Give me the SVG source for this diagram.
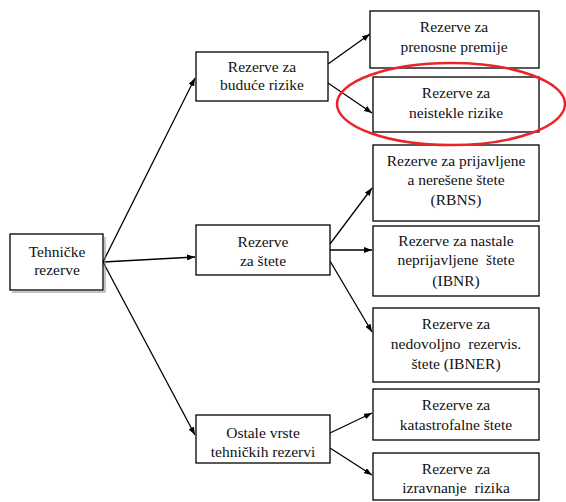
<svg xmlns="http://www.w3.org/2000/svg" width="566" height="502" viewBox="0 0 566 502">
<defs>
<marker id="ah" markerWidth="8" markerHeight="6" refX="8" refY="3" orient="auto" markerUnits="userSpaceOnUse">
<path d="M0,0 L8,3 L0,6 Z" fill="#000"/>
</marker>
<style>
.box{fill:#fff;stroke:#000;stroke-width:1.3}
.sh{fill:none;stroke:#888;stroke-width:1}
.c{stroke:#000;stroke-width:1.3;fill:none;marker-end:url(#ah)}
</style>
</defs>
<rect width="566" height="502" fill="#fff"/>
<g id="connectors">
<path class="c" d="M103,262 L195,78"/>
<path class="c" d="M103,262 L195,257"/>
<path class="c" d="M103,262 L195,435"/>
<path class="c" d="M328,64 L370,34"/>
<path class="c" d="M328,83 L372,113"/>
<path class="c" d="M330,244 L372,188"/>
<path class="c" d="M330,250 L372,250"/>
<path class="c" d="M330,261 L372,332"/>
<path class="c" d="M330,433 L372,413"/>
<path class="c" d="M330,448 L372,475"/>
</g>
<g id="n-tehnicke">
<path class="sh" d="M105,237 V292 H12"/>
<rect class="box" x="10" y="234" width="93" height="56"/>
<text x="57" y="257" font-family="Liberation Serif" font-size="15.5" text-anchor="middle" fill="#111">Tehničke</text>
<text x="57" y="275" font-family="Liberation Serif" font-size="15.5" text-anchor="middle" fill="#111">rezerve</text>
</g>
<g id="n-buduce">
<rect class="box" x="196" y="52" width="132" height="49"/>
<text x="262" y="72" font-family="Liberation Serif" font-size="15.5" text-anchor="middle" fill="#111">Rezerve za</text>
<text x="262" y="90" font-family="Liberation Serif" font-size="15.5" text-anchor="middle" fill="#111">buduće rizike</text>
</g>
<g id="n-stete">
<rect class="box" x="196" y="225" width="134" height="50"/>
<text x="263" y="247" font-family="Liberation Serif" font-size="15.5" text-anchor="middle" fill="#111">Rezerve</text>
<text x="263" y="266" font-family="Liberation Serif" font-size="15.5" text-anchor="middle" fill="#111">za štete</text>
</g>
<g id="n-ostale">
<rect class="box" x="196" y="415" width="134" height="48"/>
<text x="263" y="438" font-family="Liberation Serif" font-size="15.5" text-anchor="middle" fill="#111">Ostale vrste</text>
<text x="263" y="457" font-family="Liberation Serif" font-size="15.5" text-anchor="middle" fill="#111">tehničkih rezervi</text>
</g>
<g id="n-prenosne">
<rect class="box" x="370" y="11" width="169" height="57"/>
<text x="454" y="32" font-family="Liberation Serif" font-size="15.5" text-anchor="middle" fill="#111">Rezerve za</text>
<text x="454" y="52" font-family="Liberation Serif" font-size="15.5" text-anchor="middle" fill="#111">prenosne premije</text>
</g>
<g id="n-neistekle">
<rect class="box" x="373" y="77" width="166" height="55"/>
<text x="456" y="98" font-family="Liberation Serif" font-size="15.5" text-anchor="middle" fill="#111">Rezerve za</text>
<text x="456" y="118" font-family="Liberation Serif" font-size="15.5" text-anchor="middle" fill="#111">neistekle rizike</text>
</g>
<g id="n-rbns">
<rect class="box" x="373" y="145" width="166" height="76"/>
<text x="456" y="166" font-family="Liberation Serif" font-size="15.5" text-anchor="middle" fill="#111">Rezerve za prijavljene</text>
<text x="456" y="185" font-family="Liberation Serif" font-size="15.5" text-anchor="middle" fill="#111">a nerešene štete</text>
<text x="456" y="205" font-family="Liberation Serif" font-size="15.5" text-anchor="middle" fill="#111">(RBNS)</text>
</g>
<g id="n-ibnr">
<rect class="box" x="373" y="226" width="166" height="70"/>
<text x="456" y="246" font-family="Liberation Serif" font-size="15.5" text-anchor="middle" fill="#111">Rezerve za nastale</text>
<text x="456" y="265" font-family="Liberation Serif" font-size="15.5" text-anchor="middle" fill="#111" xml:space="preserve">neprijavljene  štete</text>
<text x="456" y="286" font-family="Liberation Serif" font-size="15.5" text-anchor="middle" fill="#111">(IBNR)</text>
</g>
<g id="n-ibner">
<rect class="box" x="373" y="308" width="166" height="74"/>
<text x="456" y="329" font-family="Liberation Serif" font-size="15.5" text-anchor="middle" fill="#111">Rezerve za</text>
<text x="456" y="349" font-family="Liberation Serif" font-size="15.5" text-anchor="middle" fill="#111" xml:space="preserve">nedovoljno  rezervis.</text>
<text x="456" y="369" font-family="Liberation Serif" font-size="15.5" text-anchor="middle" fill="#111">štete (IBNER)</text>
</g>
<g id="n-katastrofalne">
<rect class="box" x="373" y="389" width="166" height="51"/>
<text x="456" y="410" font-family="Liberation Serif" font-size="15.5" text-anchor="middle" fill="#111">Rezerve za</text>
<text x="456" y="430" font-family="Liberation Serif" font-size="15.5" text-anchor="middle" fill="#111">katastrofalne štete</text>
</g>
<g id="n-izravnanje">
<rect class="box" x="373" y="453" width="166" height="47"/>
<text x="456" y="474" font-family="Liberation Serif" font-size="15.5" text-anchor="middle" fill="#111">Rezerve za</text>
<text x="456" y="493" font-family="Liberation Serif" font-size="15.5" text-anchor="middle" fill="#111" xml:space="preserve">izravnanje  rizika</text>
</g>
<g id="highlight">
<ellipse cx="451" cy="104" rx="114" ry="41" fill="none" stroke="#e8262a" stroke-width="2.5"/>
</g>
</svg>
